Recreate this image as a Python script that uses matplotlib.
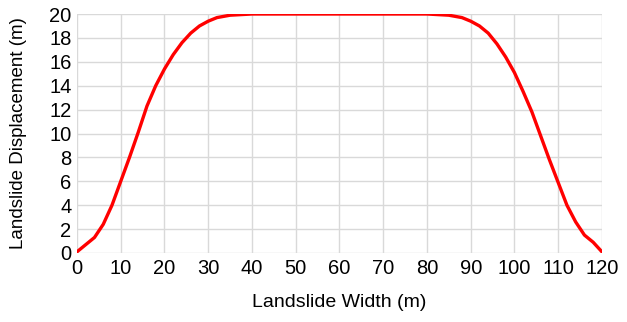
import numpy as np
import matplotlib
matplotlib.use('Agg')
import matplotlib.pyplot as plt

plt.rcParams['font.family'] = ['Liberation Sans', 'DejaVu Sans']

width = [0, 2, 4, 6, 8, 10, 12, 14, 16, 18, 20, 22, 24, 26, 28, 30, 32, 35, 40,
         50, 60, 70, 80, 85, 88, 90, 92, 94, 96, 98, 100, 102, 104, 106, 108,
         110, 112, 114, 116, 118, 120]
disp = [0.1, 0.7, 1.3, 2.4, 4.0, 6.0, 8.0, 10.1, 12.3, 14.0, 15.4, 16.6, 17.6,
        18.4, 19.0, 19.4, 19.7, 19.9, 20.0, 20.0, 20.0, 20.0, 20.0, 19.9, 19.7,
        19.4, 19.0, 18.4, 17.5, 16.4, 15.1, 13.5, 11.8, 9.8, 7.8, 5.9, 4.0,
        2.6, 1.5, 0.9, 0.1]

fig = plt.figure(figsize=(6.27, 3.22), dpi=100)
ax = fig.add_axes([0.1228, 0.2143, 0.8372, 0.7422])

ax.plot(width, disp, color='#ff0000', lw=2.4, solid_capstyle='round',
        solid_joinstyle='round', zorder=3)

ax.set_xlim(0, 120)
ax.set_ylim(0, 20)
ax.set_xticks(np.arange(0, 121, 10))
ax.set_yticks(np.arange(0, 21, 2))
ax.grid(True, color='#d9d9d9', lw=1)
ax.tick_params(length=0, labelsize=14.5, pad=4, colors='black')
for s in ax.spines.values():
    s.set_visible(False)

ax.set_xlabel('Landslide Width (m)', fontsize=14, labelpad=12)
ax.set_ylabel('Landslide Displacement (m)', fontsize=13.5, labelpad=16)

plt.savefig('out.png', dpi=100)
